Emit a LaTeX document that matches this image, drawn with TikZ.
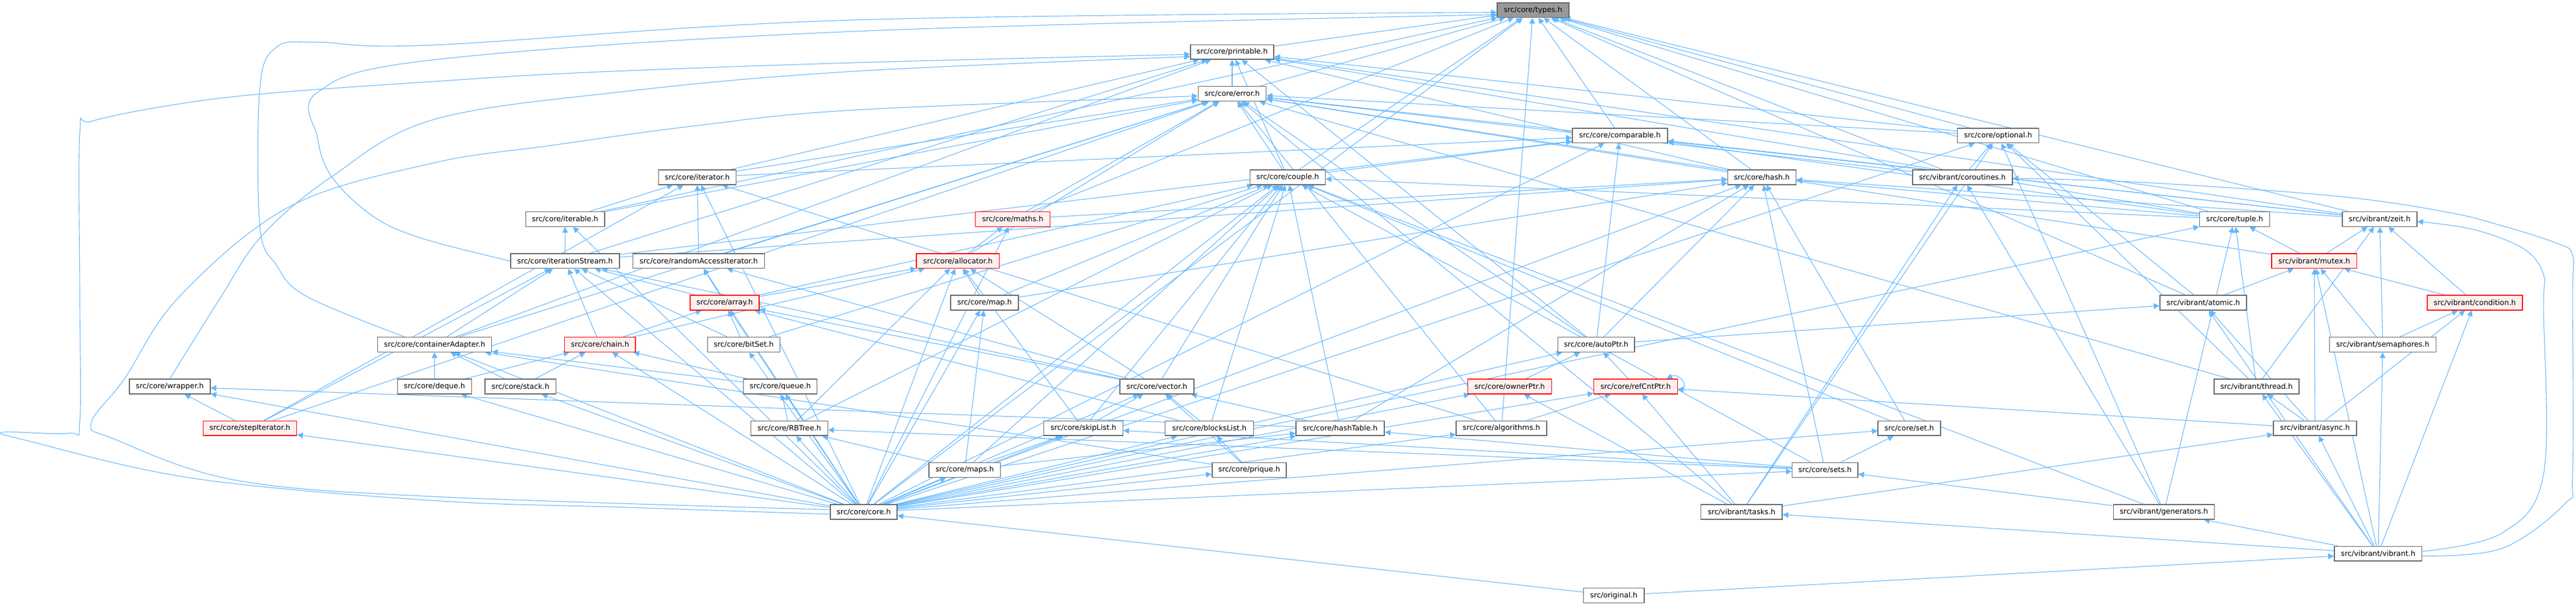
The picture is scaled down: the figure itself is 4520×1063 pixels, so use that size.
\documentclass[tikz,border=0pt]{standalone}
\usepackage{fontspec}
\setmainfont{DejaVu Sans}
\usetikzlibrary{arrows.meta}
\definecolor{edgeblue}{HTML}{63B8FF}
\definecolor{boxgray}{HTML}{666666}
\definecolor{boxred}{HTML}{FF0000}
\definecolor{boxpink}{HTML}{FFF0F0}
\definecolor{rootgray}{HTML}{999999}
\pgfdeclarelayer{bg}
\pgfsetlayers{bg,main}
\begin{document}
\begin{tikzpicture}[x=0.5pt,y=-0.5pt,
  box/.style={draw=boxgray, line width=0.75pt, fill=white, minimum height=12.9pt, inner sep=0pt, font=\fontsize{6.4}{7.7}\selectfont, text=black},
  nb/.style={box},
  rb/.style={box, draw=boxred, fill=boxpink},
  tb/.style={box, fill=rootgray},
  dep/.style={draw=edgeblue, line width=0.55pt, -{Triangle[length=5pt,width=5pt]}}]
\useasboundingbox (0,0) rectangle (4520,1063);
\node[tb, minimum width=62.8pt] (types) at (2690,17.7) {src/core/types.h};
\node[nb, minimum width=73.2pt] (printable) at (2162,91.3) {src/core/printable.h};
\node[nb, minimum width=59.7pt] (error) at (2162,164.4) {src/core/error.h};
\node[nb, minimum width=83.6pt] (comparable) at (2842.4,237.8) {src/core/comparable.h};
\node[nb, minimum width=71.5pt] (optional) at (3506,237.8) {src/core/optional.h};
\node[nb, minimum width=68.1pt] (iterator) at (1223.5,311) {src/core/iterator.h};
\node[nb, minimum width=65.9pt] (couple) at (2259.5,311) {src/core/couple.h};
\node[nb, minimum width=59.9pt] (hash) at (3091.5,311) {src/core/hash.h};
\node[nb, minimum width=87.5pt] (coroutines) at (3443.4,311) {src/vibrant/coroutines.h};
\node[nb, minimum width=69.3pt] (iterable) at (991.6,384.5) {src/core/iterable.h};
\node[rb, minimum width=65.7pt] (maths) at (1777,384.5) {src/core/maths.h};
\node[nb, minimum width=61.6pt] (tuple) at (3921,384.5) {src/core/tuple.h};
\node[nb, minimum width=65.5pt] (zeit) at (4175.5,384.5) {src/vibrant/zeit.h};
\node[nb, minimum width=95.5pt] (iterationStream) at (991.5,457.8) {src/core/iterationStream.h};
\node[nb, minimum width=115.4pt] (randomAccessIterator) at (1226,457.8) {src/core/randomAccessIterator.h};
\node[rb, minimum width=72.7pt] (allocator) at (1680.8,457.8) {src/core/allocator.h};
\node[rb, minimum width=74.9pt] (mutex) at (4060.8,457.8) {src/vibrant/mutex.h};
\node[rb, minimum width=60.5pt] (array) at (1271.6,531) {src/core/array.h};
\node[nb, minimum width=59.4pt] (map) at (1727.6,531) {src/core/map.h};
\node[nb, minimum width=76.2pt] (atomic) at (3866,531) {src/vibrant/atomic.h};
\node[rb, minimum width=83.6pt] (condition) at (4342.4,531) {src/vibrant/condition.h};
\node[nb, minimum width=100pt] (containerAdapter) at (762.6,604.5) {src/core/containerAdapter.h};
\node[rb, minimum width=62.3pt] (chain) at (1052.9,604.5) {src/core/chain.h};
\node[nb, minimum width=63.5pt] (bitSet) at (1305,604.5) {src/core/bitSet.h};
\node[nb, minimum width=67.2pt] (autoPtr) at (2800.7,604.5) {src/core/autoPtr.h};
\node[nb, minimum width=93.3pt] (semaphores) at (4181,604.5) {src/vibrant/semaphores.h};
\node[nb, minimum width=70.8pt] (wrapper) at (298,678) {src/core/wrapper.h};
\node[nb, minimum width=64.9pt] (deque) at (762.4,678) {src/core/deque.h};
\node[nb, minimum width=62.3pt] (stack) at (913.3,678) {src/core/stack.h};
\node[nb, minimum width=64.7pt] (queue) at (1369,678) {src/core/queue.h};
\node[nb, minimum width=65pt] (vector) at (2030,678) {src/core/vector.h};
\node[rb, minimum width=73.4pt] (ownerPtr) at (2649,678) {src/core/ownerPtr.h};
\node[rb, minimum width=73.5pt] (refCntPtr) at (2870,678) {src/core/refCntPtr.h};
\node[nb, minimum width=74.5pt] (thread) at (3959.5,678) {src/vibrant/thread.h};
\node[rb, minimum width=82.2pt] (stepIterator) at (438.5,751.3) {src/core/stepIterator.h};
\node[nb, minimum width=67.4pt] (RBTree) at (1385,751.3) {src/core/RBTree.h};
\node[nb, minimum width=69.3pt] (skipList) at (1901,751.3) {src/core/skipList.h};
\node[nb, minimum width=77.4pt] (blocksList) at (2122,751.3) {src/core/blocksList.h};
\node[nb, minimum width=77.6pt] (hashTable) at (2351.6,751.3) {src/core/hashTable.h};
\node[nb, minimum width=79.3pt] (algorithms) at (2634.5,751.3) {src/core/algorithms.h};
\node[nb, minimum width=54.8pt] (set) at (3350,751.3) {src/core/set.h};
\node[nb, minimum width=73.2pt] (async) at (4062,751.3) {src/vibrant/async.h};
\node[nb, minimum width=62.8pt] (maps) at (1692.7,824.4) {src/core/maps.h};
\node[nb, minimum width=65.2pt] (prique) at (2192,824.4) {src/core/prique.h};
\node[nb, minimum width=57.7pt] (sets) at (3202.3,824.4) {src/core/sets.h};
\node[nb, minimum width=58.6pt] (core) at (1515.6,898) {src/core/core.h};
\node[nb, minimum width=71.2pt] (tasks) at (3055.9,898) {src/vibrant/tasks.h};
\node[nb, minimum width=88.6pt] (generators) at (3796.9,898) {src/vibrant/generators.h};
\node[nb, minimum width=76.9pt] (vibrant) at (4172.8,971.2) {src/vibrant/vibrant.h};
\node[nb, minimum width=53.1pt] (original) at (2831.7,1044.6) {src/original.h};
\begin{pgfonlayer}{bg}
\fill[white] (0,0) rectangle (4520,1063);
\foreach \a/\b in {printable/types, error/printable, error/types, comparable/types,
  optional/types, optional/error, optional/printable,
  iterator/printable, iterator/error, iterator/comparable,
  couple/printable, couple/error, couple/comparable, couple/types,
  hash/types, hash/printable, hash/error,
  coroutines/optional, coroutines/types, coroutines/error,
  iterable/iterator, iterable/error, iterable/types,
  maths/error, maths/types, maths/hash,
  tuple/printable, tuple/couple, tuple/types, tuple/comparable, tuple/hash,
  zeit/types, zeit/comparable, zeit/printable, zeit/hash, zeit/error,
  iterationStream/iterable, iterationStream/printable, iterationStream/comparable, iterationStream/hash,
  randomAccessIterator/iterator, randomAccessIterator/error,
  allocator/maths, allocator/error,
  mutex/zeit, mutex/tuple, mutex/error,
  array/iterationStream, array/randomAccessIterator, array/allocator, array/couple,
  map/allocator, map/couple, map/hash,
  atomic/mutex, atomic/optional, atomic/types,
  condition/mutex, condition/zeit,
  containerAdapter/printable, containerAdapter/iterationStream, containerAdapter/error,
  chain/array, chain/iterationStream, chain/allocator,
  bitSet/array, bitSet/iterationStream, bitSet/couple,
  autoPtr/comparable, autoPtr/atomic, autoPtr/printable, autoPtr/error, autoPtr/hash,
  semaphores/condition, semaphores/mutex, semaphores/zeit,
  deque/containerAdapter, deque/chain, stack/containerAdapter, stack/chain,
  queue/containerAdapter, queue/chain,
  vector/array, vector/allocator, vector/iterationStream, vector/randomAccessIterator, vector/couple,
  ownerPtr/autoPtr, refCntPtr/autoPtr,
  thread/zeit, thread/error, thread/tuple, thread/optional,
  stepIterator/wrapper, stepIterator/iterator, stepIterator/iterationStream, stepIterator/error,
  RBTree/queue, RBTree/couple, RBTree/allocator,
  skipList/vector, skipList/couple, skipList/allocator,
  blocksList/vector, blocksList/couple, blocksList/array,
  hashTable/couple, hashTable/hash, hashTable/vector, hashTable/wrapper,
  algorithms/types, algorithms/refCntPtr, algorithms/error, algorithms/iterator,
  set/couple, set/hash,
  async/thread, async/atomic, async/condition, async/refCntPtr, async/mutex,
  maps/map, maps/skipList, maps/RBTree, maps/hashTable, maps/couple,
  prique/blocksList, prique/containerAdapter, prique/vector,
  sets/set, sets/hashTable, sets/skipList, sets/RBTree, sets/couple, sets/hash,
  generators/coroutines, generators/sets, generators/optional, generators/couple, generators/tuple,
  tasks/async, tasks/coroutines, tasks/refCntPtr, tasks/optional, tasks/ownerPtr, tasks/error,
  vibrant/generators, vibrant/thread, vibrant/async, vibrant/atomic, vibrant/mutex,
  vibrant/semaphores, vibrant/condition, vibrant/tasks,
  original/core, original/vibrant}
  \draw[dep] (\a) -- (\b);
\foreach \b in {types, comparable, optional, iterator, couple, hash, iterable, maths, tuple,
  iterationStream, randomAccessIterator, allocator, array, map, containerAdapter, chain, bitSet,
  autoPtr, wrapper, deque, stack, queue, vector, ownerPtr, refCntPtr, stepIterator, RBTree,
  skipList, blocksList, hashTable, algorithms, set, maps, prique, sets}
  \draw[dep] (core) -- (\b);
% long loops on the left
\draw[dep] plot[smooth, tension=0.6] coordinates {([yshift=-2pt]core.west) (1100,890) (760,878) (339,839) (48,773) (6,758) (121,760) (140,740) (140,520) (140,234) (160,213) (291,186) (456,165) (760,143) (1031,127) (1500,110) ([yshift=-2pt]printable.west)};
\draw[dep] plot[smooth, tension=0.6] coordinates {([yshift=2pt]core.west) (760,871) (412,842) (200,770) (160,742) (218,665) (315,520) (509,362) (760,286) (968,255) (1225,220) (1500,193) ([yshift=-2pt]error.west)};
\draw[dep] plot[smooth, tension=0.6] coordinates {([xshift=24pt]containerAdapter.north west) (538,520) (485,465) (456,396) (456,155) (485,83) (557,74) (760,79) (1500,35) ([yshift=-2pt]types.west)};
\draw[dep] plot[smooth, tension=0.6] coordinates {(iterationStream.west) (740,418) (654,379) (582,310) (557,241) (557,162) (760,105) (1500,55) ([yshift=-4pt]types.west)};
\draw[dep] plot[smooth, tension=0.6] coordinates {(wrapper.north) (385,525) (460,413) (582,310) (760,210) (1100,160) (1500,125) ([yshift=-4pt]printable.west)};
% loops on the right
\draw[dep] plot[smooth, tension=0.6] coordinates {([yshift=-2pt]vibrant.east) (4390,962) (4501,883) (4514,831) (4514,520) (4514,448) (4487,427) (4390,396) (4293,372) (4099,344) (3760,320) ([yshift=-1pt]coroutines.east)};
\draw[dep] plot[smooth, tension=0.6] coordinates {([yshift=2pt]vibrant.east) (4390,935) (4463,832) (4463,540) (4463,482) (4429,437) (4342,403) ([yshift=-2pt]zeit.east)};
% self loop
\draw[dep] ([yshift=-3pt]refCntPtr.east) .. controls +(12pt,0pt) and +(12pt,6pt) .. ([xshift=-10pt]refCntPtr.north east);
\end{pgfonlayer}
\end{tikzpicture}
\end{document}
